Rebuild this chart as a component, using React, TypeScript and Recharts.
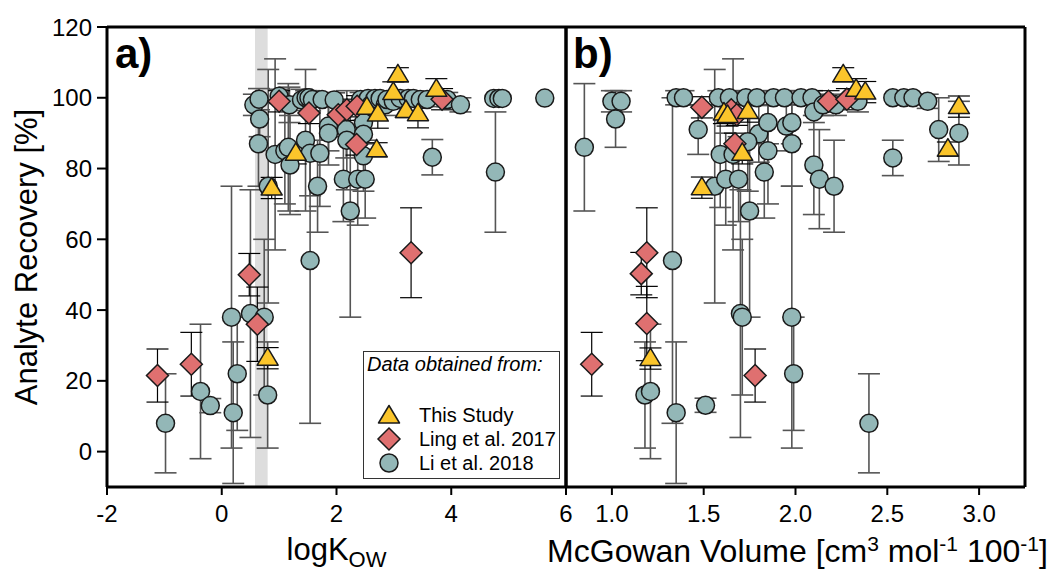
import React from 'react';
import {
  ScatterChart, Scatter, XAxis, YAxis, ErrorBar, ReferenceLine, ReferenceArea, Label, Legend,
} from 'recharts';

const FONT = "'Liberation Sans', Arial, Helvetica, sans-serif";

// ---------- data ----------
const seriesNames = ['This Study', 'Ling et al. 2017', 'Li et al. 2018'];
const yTicks = [0, 20, 40, 60, 80, 100, 120];
const xTicksA = [-2, 0, 2, 4, 6];
const xTicksB = [1.0, 1.5, 2.0, 2.5, 3.0];
const bandA = [0.58, 0.8];

// panel a) : logKow
const thisStudyA = [
  { x: 0.80, y: 26.4, e: 3 }, { x: 0.87, y: 74.5, e: 3 }, { x: 1.29, y: 84.3, e: 3 },
  { x: 2.53, y: 97.3, e: 3 }, { x: 2.72, y: 95.4, e: 4 }, { x: 2.70, y: 85.3, e: 2 },
  { x: 2.99, y: 101.5, e: 3 }, { x: 3.07, y: 106.5, e: 2 }, { x: 3.21, y: 96.4, e: 2 },
  { x: 3.42, y: 95.5, e: 4 }, { x: 3.74, y: 102.4, e: 3 },
];
const lingA = [
  { x: -1.12, y: 21.5, e: 7.5 }, { x: -0.53, y: 24.7, e: 9 }, { x: 0.48, y: 50, e: 6 },
  { x: 0.62, y: 36, e: 10.5 }, { x: 1.0, y: 99, e: 3 }, { x: 1.52, y: 95.7, e: 3 },
  { x: 2.03, y: 95.2, e: 3 }, { x: 2.18, y: 96.6, e: 3 }, { x: 2.36, y: 97.6, e: 3 },
  { x: 2.35, y: 86.8, e: 3 }, { x: 3.3, y: 56.2, e: 12.7 }, { x: 3.84, y: 99.6, e: 3 },
];
const liA = [
  { x: -0.98, y: 8, e: 14 }, { x: -0.37, y: 17, e: 19 }, { x: -0.2, y: 13, e: 2 },
  { x: 0.17, y: 38, e: 37 }, { x: 0.2, y: 11, e: 20 }, { x: 0.27, y: 22, e: 16 },
  { x: 0.5, y: 39, e: 35 }, { x: 0.74, y: 38, e: 22 }, { x: 0.8, y: 16, e: 15 },
  { x: 1.54, y: 54, e: 46 },
  { x: 0.56, y: 98, e: 3 }, { x: 0.65, y: 99.6, e: 3 }, { x: 0.66, y: 94, e: 5 },
  { x: 0.64, y: 87, e: 12 }, { x: 0.81, y: 75, e: 33 }, { x: 0.93, y: 84, e: 27 },
  { x: 1.0, y: 100.4, e: 2 }, { x: 1.1, y: 85, e: 15 }, { x: 1.16, y: 86, e: 18 },
  { x: 1.19, y: 81, e: 14 }, { x: 1.18, y: 98, e: 5 }, { x: 1.39, y: 99.4, e: 3 },
  { x: 1.46, y: 88, e: 20 }, { x: 1.47, y: 100, e: 2 }, { x: 1.52, y: 100, e: 2 },
  { x: 1.58, y: 99.5, e: 2 }, { x: 1.54, y: 84.3, e: 12 }, { x: 1.71, y: 84.3, e: 15 },
  { x: 1.67, y: 75, e: 13 }, { x: 1.75, y: 99.5, e: 2 }, { x: 1.96, y: 99.4, e: 2 },
  { x: 1.86, y: 92, e: 7 }, { x: 1.86, y: 90, e: 9 }, { x: 2.17, y: 91, e: 8 },
  { x: 2.18, y: 88, e: 14 }, { x: 2.12, y: 77, e: 12 }, { x: 2.24, y: 68, e: 30 },
  { x: 2.37, y: 77, e: 13 }, { x: 2.5, y: 77, e: 11 }, { x: 2.47, y: 93, e: 6 },
  { x: 2.47, y: 89.7, e: 6 }, { x: 2.47, y: 83.6, e: 10 }, { x: 2.42, y: 99.5, e: 2 },
  { x: 2.55, y: 99.8, e: 2 }, { x: 2.6, y: 98, e: 3 }, { x: 2.67, y: 99.8, e: 2 },
  { x: 2.76, y: 99.8, e: 2 }, { x: 2.85, y: 98, e: 3 }, { x: 2.88, y: 99.5, e: 2 },
  { x: 2.99, y: 99, e: 2 }, { x: 3.11, y: 99.8, e: 2 }, { x: 3.25, y: 99.8, e: 2 },
  { x: 3.34, y: 99.8, e: 2 }, { x: 3.46, y: 99.5, e: 2 }, { x: 3.58, y: 99.5, e: 2 },
  { x: 3.67, y: 83.2, e: 5 }, { x: 3.93, y: 99.5, e: 2 }, { x: 4.16, y: 98, e: 2 },
  { x: 4.74, y: 99.8, e: 0 }, { x: 4.83, y: 99.8, e: 0 }, { x: 4.89, y: 99.8, e: 0 },
  { x: 4.77, y: 79, e: 17 }, { x: 5.63, y: 99.9, e: 0 },
];

// panel b) : McGowan volume
const thisStudyB = [
  { x: 1.21, y: 26.3, e: 3 }, { x: 1.49, y: 74.6, e: 3 }, { x: 1.61, y: 95.7, e: 3 },
  { x: 1.63, y: 95.0, e: 3 }, { x: 1.74, y: 96.1, e: 3 }, { x: 1.71, y: 84.3, e: 3 },
  { x: 2.26, y: 106.5, e: 2 }, { x: 2.33, y: 102.4, e: 3 }, { x: 2.38, y: 101.6, e: 3 },
  { x: 2.83, y: 85.5, e: 2 }, { x: 2.89, y: 97.5, e: 3 },
];
const lingB = [
  { x: 0.89, y: 24.7, e: 9 }, { x: 1.16, y: 50.3, e: 6 }, { x: 1.19, y: 56.2, e: 12.7 },
  { x: 1.19, y: 36.2, e: 10.5 }, { x: 1.49, y: 97.3, e: 3 }, { x: 1.65, y: 96.6, e: 3 },
  { x: 1.68, y: 95.2, e: 3 }, { x: 1.67, y: 87, e: 3 }, { x: 1.78, y: 21.5, e: 7.5 },
  { x: 2.18, y: 99, e: 3 }, { x: 2.28, y: 99.6, e: 3 },
];
const liB = [
  { x: 1.18, y: 16, e: 15 }, { x: 1.21, y: 17, e: 19 }, { x: 1.35, y: 11, e: 20 },
  { x: 1.51, y: 13.1, e: 2 }, { x: 1.70, y: 39, e: 35 }, { x: 1.71, y: 38, e: 22 },
  { x: 1.98, y: 38, e: 37 }, { x: 1.99, y: 22, e: 16 }, { x: 2.40, y: 8, e: 14 },
  { x: 1.33, y: 54, e: 46 },
  { x: 0.85, y: 86, e: 18 }, { x: 1.0, y: 99, e: 3 }, { x: 1.05, y: 99, e: 3 },
  { x: 1.02, y: 94, e: 8 }, { x: 1.35, y: 100, e: 2 }, { x: 1.39, y: 100, e: 2 },
  { x: 1.47, y: 91, e: 7 }, { x: 1.56, y: 75, e: 33 }, { x: 1.62, y: 77, e: 13 },
  { x: 1.69, y: 77, e: 12 }, { x: 1.59, y: 84, e: 15 }, { x: 1.66, y: 84, e: 27 },
  { x: 1.75, y: 68, e: 30 },
  { x: 1.58, y: 100, e: 2 }, { x: 1.64, y: 100, e: 2 }, { x: 1.73, y: 100, e: 2 },
  { x: 1.79, y: 100, e: 2 }, { x: 1.88, y: 100, e: 2 }, { x: 1.94, y: 100, e: 2 },
  { x: 2.03, y: 100, e: 2 }, { x: 2.09, y: 100, e: 2 },
  { x: 1.8, y: 89.8, e: 8 }, { x: 1.85, y: 93, e: 6 }, { x: 1.85, y: 85, e: 15 },
  { x: 1.83, y: 79, e: 13 }, { x: 1.74, y: 87.6, e: 14 }, { x: 1.95, y: 92, e: 7 },
  { x: 1.98, y: 93, e: 6 }, { x: 1.98, y: 87, e: 12 }, { x: 2.1, y: 81, e: 14 },
  { x: 2.13, y: 77, e: 14 }, { x: 2.1, y: 96, e: 3 }, { x: 2.15, y: 98, e: 3 },
  { x: 2.22, y: 98, e: 3 }, { x: 2.34, y: 99, e: 3 },
  { x: 2.53, y: 100, e: 0 }, { x: 2.59, y: 100, e: 0 }, { x: 2.64, y: 100, e: 0 },
  { x: 2.72, y: 99, e: 2 }, { x: 2.78, y: 91, e: 9 }, { x: 2.89, y: 90, e: 9 },
  { x: 2.53, y: 83, e: 5 }, { x: 2.21, y: 75, e: 13 },
];

// ---------- styles ----------
const COL_TRI = '#FBC52B';
const COL_DIA = '#DF7070';
const COL_CIR = '#93B7B7';
const EDGE = '#1a1a1a';

const TriShape = (p: any) => {
  const { cx, cy } = p;
  if (cx == null || cy == null) return <g />;
  return (
    <polygon
      points={`${cx},${cy - 10.5} ${cx + 10.5},${cy + 7} ${cx - 10.5},${cy + 7}`}
      fill={COL_TRI} stroke={EDGE} strokeWidth={1.5} strokeLinejoin="round"
    />
  );
};
const DiaShape = (p: any) => {
  const { cx, cy } = p;
  if (cx == null || cy == null) return <g />;
  return (
    <polygon
      points={`${cx},${cy - 11} ${cx + 11},${cy} ${cx},${cy + 11} ${cx - 11},${cy}`}
      fill={COL_DIA} stroke={EDGE} strokeWidth={1.5}
    />
  );
};
const CirShape = (p: any) => {
  const { cx, cy } = p;
  if (cx == null || cy == null) return <g />;
  return <circle cx={cx} cy={cy} r={9} fill={COL_CIR} stroke={EDGE} strokeWidth={1.5} />;
};

const axisLine = { stroke: '#000', strokeWidth: 3 };
const tickLine = { stroke: '#000', strokeWidth: 2 };
const tickStyle = { fill: '#000', fontSize: 24, fontFamily: FONT };

const XTitleA = (props: any) => {
  const vb = props.viewBox || { x: 0, y: 0, width: 0, height: 0 };
  return (
    <text x={vb.x + vb.width / 2} y={vb.y + 73} textAnchor="middle" fontSize={31} fontFamily={FONT} fill="#000">
      logK<tspan fontSize={22} dy={7}>OW</tspan>
    </text>
  );
};
const XTitleB = (props: any) => {
  const vb = props.viewBox || { x: 0, y: 0, width: 0, height: 0 };
  return (
    <text x={vb.x + vb.width / 2 + 2} y={vb.y + 75} textAnchor="middle" fontSize={32} fontFamily={FONT} fill="#000">
      McGowan Volume [cm<tspan fontSize={21} dy={-11}>3</tspan>
      <tspan dy={11}> mol</tspan><tspan fontSize={21} dy={-11}>-1</tspan>
      <tspan dy={11}> 100</tspan><tspan fontSize={21} dy={-11}>-1</tspan>
      <tspan dy={11}>]</tspan>
    </text>
  );
};
const YTitle = (props: any) => {
  const vb = props.viewBox || { x: 0, y: 0, width: 0, height: 0 };
  const cy = vb.y + vb.height / 2;
  const x = 37;
  return (
    <text x={x} y={cy} transform={`rotate(-90 ${x} ${cy})`} textAnchor="middle" fontSize={31} fontFamily={FONT} fill="#000">
      Analyte Recovery [%]
    </text>
  );
};

const LegendBox = () => {
  const shapes = [TriShape, DiaShape, CirShape];
  return (
    <svg width={197} height={128} style={{ display: 'block' }}>
      <rect x={0.5} y={0.5} width={196} height={127} fill="#fff" stroke="#333" strokeWidth={1} />
      <text x={4} y={20} fontStyle="italic" fontSize={20} fontFamily={FONT} fill="#000">Data obtained from:</text>
      {seriesNames.map((name, i) => {
        const S = shapes[i];
        const cy = 64 + i * 24;
        return (
          <g key={name}>
            <S cx={26} cy={i === 0 ? cy + 1 : cy} />
            <text x={56} y={cy + 7} fontSize={20} fontFamily={FONT} fill="#000">{name}</text>
          </g>
        );
      })}
    </svg>
  );
};

const errLi = { stroke: '#555', strokeWidth: 1.6 };
const errBlk = { stroke: '#000', strokeWidth: 1.2 };

export default function App() {
  return (
    <div style={{ position: 'absolute', left: 0, top: 0, width: 1050, height: 572, background: '#fff' }}>
      <div style={{ position: 'absolute', left: 0, top: 0 }}>
        <ScatterChart width={590} height={572} margin={{ top: 27, right: 24, bottom: 0, left: 0 }}>
          <XAxis type="number" dataKey="x" domain={[-2, 6]} ticks={xTicksA} interval={0} allowDataOverflow
            height={85} tickSize={8} tickMargin={10} axisLine={axisLine} tickLine={tickLine} tick={tickStyle}>
            <Label content={<XTitleA />} />
          </XAxis>
          <YAxis type="number" dataKey="y" domain={[-10, 120]} ticks={yTicks} interval={0} allowDataOverflow
            width={107} tickSize={10} tickMargin={5} axisLine={axisLine} tickLine={tickLine} tick={tickStyle}>
            <Label content={<YTitle />} />
          </YAxis>
          <ReferenceArea x1={bandA[0]} x2={bandA[1]} y1={-10} y2={120} fill="#dddddd" fillOpacity={1} stroke="none" />
          <ReferenceLine y={120} stroke="#000" strokeWidth={3} />
          <ReferenceLine x={6} stroke="#000" strokeWidth={3} />
          <Scatter name={seriesNames[2]} data={liA} shape={CirShape} isAnimationActive={false}>
            <ErrorBar dataKey="e" direction="y" width={11} {...errLi} />
          </Scatter>
          <Scatter name={seriesNames[1]} data={lingA} shape={DiaShape} isAnimationActive={false}>
            <ErrorBar dataKey="e" direction="y" width={11} {...errBlk} />
          </Scatter>
          <Scatter name={seriesNames[0]} data={thisStudyA} shape={TriShape} isAnimationActive={false}>
            <ErrorBar dataKey="e" direction="y" width={11} {...errBlk} />
          </Scatter>
          <Legend content={<LegendBox />} layout="vertical" align="center" verticalAlign="middle"
            wrapperStyle={{ left: 363, top: 351, width: 197, height: 128 }} />
        </ScatterChart>
      </div>
      <div style={{ position: 'absolute', left: 546, top: 0 }}>
        <ScatterChart width={504} height={572} margin={{ top: 27, right: 25, bottom: 0, left: 20 }}>
          <XAxis type="number" dataKey="x" domain={[0.75, 3.25]} ticks={xTicksB} interval={0} allowDataOverflow
            height={85} tickSize={8} tickMargin={10} axisLine={axisLine} tickLine={tickLine} tick={tickStyle}
            tickFormatter={(v: number) => v.toFixed(1)}>
            <Label content={<XTitleB />} />
          </XAxis>
          <YAxis type="number" dataKey="y" domain={[-10, 120]} hide width={0} allowDataOverflow />
          <ReferenceLine y={120} stroke="#000" strokeWidth={3} />
          <ReferenceLine x={3.25} stroke="#000" strokeWidth={3} />
          <ReferenceLine x={0.75} stroke="#000" strokeWidth={3} />
          <Scatter name={seriesNames[2]} data={liB} shape={CirShape} isAnimationActive={false}>
            <ErrorBar dataKey="e" direction="y" width={11} {...errLi} />
          </Scatter>
          <Scatter name={seriesNames[1]} data={lingB} shape={DiaShape} isAnimationActive={false}>
            <ErrorBar dataKey="e" direction="y" width={11} {...errBlk} />
          </Scatter>
          <Scatter name={seriesNames[0]} data={thisStudyB} shape={TriShape} isAnimationActive={false}>
            <ErrorBar dataKey="e" direction="y" width={11} {...errBlk} />
          </Scatter>
        </ScatterChart>
      </div>
      <svg width={1050} height={572} style={{ position: 'absolute', left: 0, top: 0, pointerEvents: 'none' }}>
        <text x={115} y={68} fontSize={42} fontWeight="bold" fontFamily={FONT} fill="#000">a)</text>
        <text x={573} y={68} fontSize={42} fontWeight="bold" fontFamily={FONT} fill="#000">b)</text>
      </svg>
    </div>
  );
}
